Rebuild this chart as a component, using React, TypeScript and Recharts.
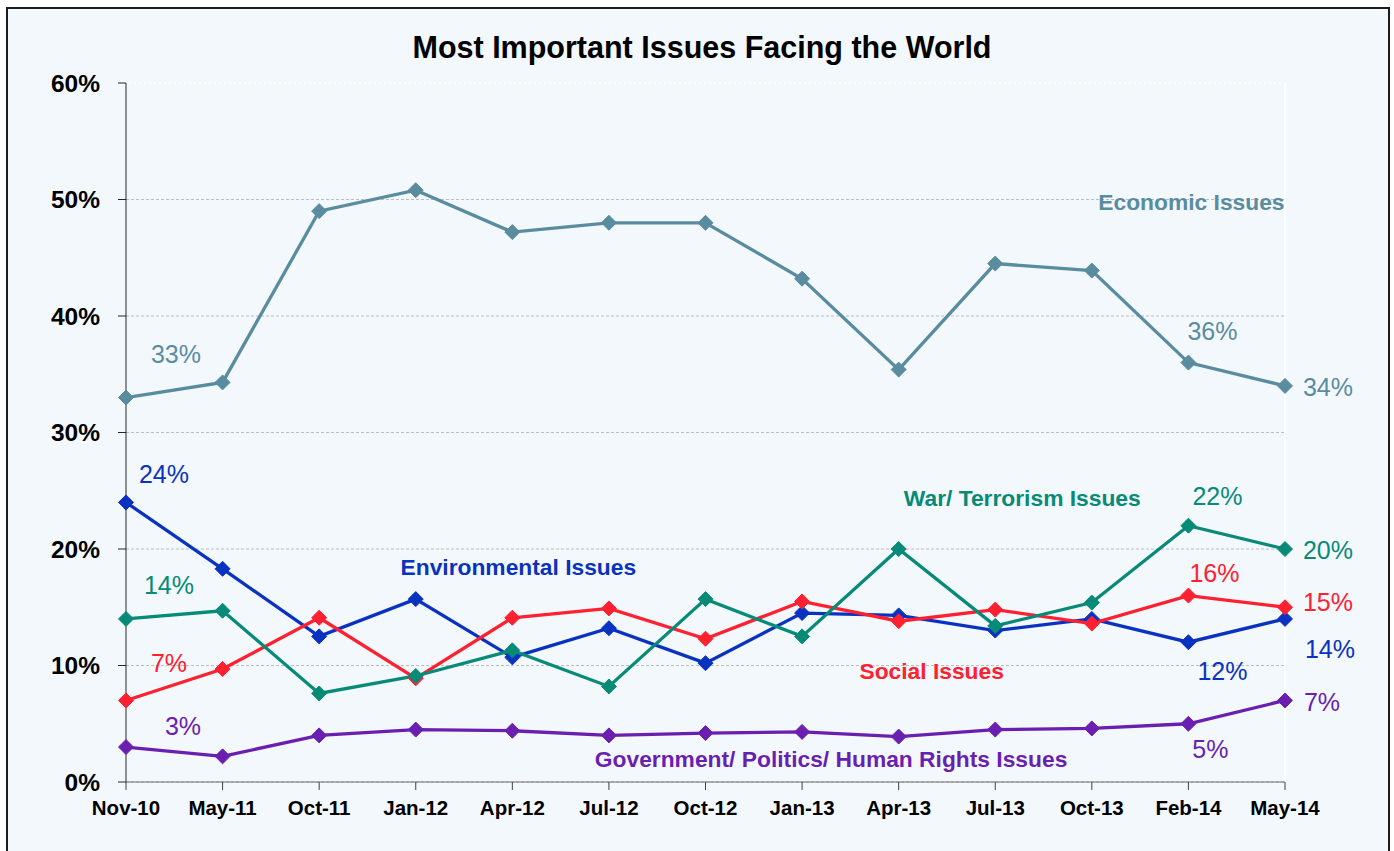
import React from 'react';
import {
  LineChart, Line, XAxis, YAxis, CartesianGrid, LabelList, ReferenceDot, ReferenceLine,
} from 'recharts';

const categories = ['Nov-10', 'May-11', 'Oct-11', 'Jan-12', 'Apr-12', 'Jul-12', 'Oct-12', 'Jan-13', 'Apr-13', 'Jul-13', 'Oct-13', 'Feb-14', 'May-14'];
const economic = [33, 34.3, 49, 50.8, 47.2, 48, 48, 43.2, 35.4, 44.5, 43.9, 36, 34];
const environmental = [24, 18.3, 12.5, 15.7, 10.7, 13.2, 10.2, 14.5, 14.3, 13, 14, 12, 14];
const social = [7, 9.7, 14.1, 8.9, 14.1, 14.9, 12.3, 15.5, 13.8, 14.8, 13.6, 16, 15];
const war = [14, 14.7, 7.6, 9.1, 11.3, 8.2, 15.7, 12.5, 20, 13.4, 15.4, 22, 20];
const government = [3, 2.2, 4, 4.5, 4.4, 4, 4.2, 4.3, 3.9, 4.5, 4.6, 5, 7];
const yTicks = [0, 10, 20, 30, 40, 50, 60];

const data = categories.map((month, i) => ({
  month,
  economic: economic[i],
  environmental: environmental[i],
  social: social[i],
  war: war[i],
  government: government[i],
}));

const COLORS: Record<string, string> = {
  economic: '#5a8c9f',
  environmental: '#0a32c0',
  social: '#ff2030',
  war: '#078a76',
  government: '#6a1fb0',
};

// value labels shown: index -> [dx, dy] offset of text centre from point
const VALUE_LABELS: Record<string, Record<number, [number, number]>> = {
  economic: { 0: [50, -44], 11: [24, -32], 12: [43, 1] },
  environmental: { 0: [38, -28], 11: [34, 29], 12: [45, 30] },
  social: { 0: [43, -37], 11: [26, -23], 12: [43, -5] },
  war: { 0: [43, -34], 11: [29, -30], 12: [43, 1] },
  government: { 0: [57, -21], 11: [22, 25], 12: [37, 2] },
};

// series name labels anchored at data coords with pixel shift
const NAME_LABELS = [
  { key: 'economic', text: 'Economic Issues', x: 'Feb-14', y: 49.8, dx: 3 },
  { key: 'environmental', text: 'Environmental Issues', x: 'Apr-12', y: 18.45, dx: 6 },
  { key: 'war', text: 'War/ Terrorism Issues', x: 'Jul-13', y: 24.4, dx: 27 },
  { key: 'social', text: 'Social Issues', x: 'Apr-13', y: 9.5, dx: 33 },
  { key: 'government', text: 'Government/ Politics/ Human Rights Issues', x: 'Jan-13', y: 1.97, dx: 29 },
];

const FONT = 'Arial, "Liberation Sans", sans-serif';

const Diamond = (color: string) => (props: any) => {
  const { cx, cy } = props;
  if (cx == null || cy == null) return null;
  const s = 7.5;
  return (
    <polygon
      key={`d-${cx}-${cy}`}
      points={`${cx},${cy - s} ${cx + s},${cy} ${cx},${cy + s} ${cx - s},${cy}`}
      fill={color}
      stroke={color}
      strokeWidth={1}
    />
  );
};

const valueLabel = (key: string) => (props: any) => {
  const { x, y, index, value } = props;
  const off = VALUE_LABELS[key][index];
  if (!off) return null;
  return (
    <text
      x={x + off[0]}
      y={y + off[1]}
      textAnchor="middle"
      dominantBaseline="central"
      fill={COLORS[key]}
      fontSize={25}
      fontFamily={FONT}
    >
      {`${Math.round(value)}%`}
    </text>
  );
};

const nameLabel = (text: string, color: string, dx: number) => (props: any) => {
  const vb = props.viewBox || {};
  const cx = (vb.x ?? 0) + (vb.width ?? 0) / 2 + dx;
  const cy = (vb.y ?? 0) + (vb.height ?? 0) / 2;
  return (
    <text
      x={cx}
      y={cy}
      textAnchor="middle"
      dominantBaseline="central"
      fill={color}
      fontSize={22.8}
      fontWeight="bold"
      fontFamily={FONT}
    >
      {text}
    </text>
  );
};

const SERIES = ['economic', 'environmental', 'social', 'war', 'government'];

export default function App() {
  return (
    <div style={{ position: 'absolute', left: 0, top: 0, width: 1394, height: 851, background: '#ffffff', overflow: 'hidden' }}>
      <div
        style={{
          position: 'absolute', left: 6, top: 7, width: 1384, height: 870,
          boxSizing: 'border-box', border: '2px solid #1c1c1c', background: '#f3f8fd',
        }}
      />
      <div
        style={{
          position: 'absolute', left: 0, top: 30, width: 1404, textAlign: 'center',
          fontFamily: FONT, fontWeight: 'bold', fontSize: 30.5, color: '#000', lineHeight: '34px',
        }}
      >
        Most Important Issues Facing the World
      </div>
      <div style={{ position: 'absolute', left: 0, top: 0 }}>
        <LineChart
          width={1394}
          height={851}
          data={data}
          margin={{ top: 83, right: 109, left: 0, bottom: 0 }}
        >
          <CartesianGrid vertical={false} horizontal stroke="#bdbdbd" strokeDasharray="3 2" />
          <ReferenceLine y={60} stroke="#ffffff" strokeWidth={1.5} />
          <ReferenceLine x="May-14" stroke="#ffffff" strokeWidth={1.5} />
          <XAxis
            dataKey="month"
            interval={0}
            height={69}
            tickSize={8}
            tickMargin={10}
            stroke="#6f6f6f"
            tickLine={{ stroke: '#404040' }}
            tick={{ fill: '#000', fontSize: 20.5, fontWeight: 'bold', fontFamily: FONT }}
          />
          <YAxis
            domain={[0, 60]}
            ticks={yTicks}
            width={126}
            tickSize={8}
            tickMargin={18}
            stroke="#262626"
            tickFormatter={(v: number) => `${v}%`}
            tick={{ fill: '#000', fontSize: 24.5, fontWeight: 'bold', fontFamily: FONT }}
          />
          {SERIES.map((k) => (
            <Line
              key={k}
              dataKey={k}
              type="linear"
              stroke={COLORS[k]}
              strokeWidth={3.3}
              dot={Diamond(COLORS[k])}
              activeDot={false}
              isAnimationActive={false}
            >
              <LabelList dataKey={k} content={valueLabel(k)} />
            </Line>
          ))}
          {NAME_LABELS.map((n) => (
            <ReferenceDot
              key={n.key}
              x={n.x}
              y={n.y}
              r={0}
              fill="none"
              stroke="none"
              label={nameLabel(n.text, COLORS[n.key], n.dx)}
            />
          ))}
        </LineChart>
      </div>
    </div>
  );
}
